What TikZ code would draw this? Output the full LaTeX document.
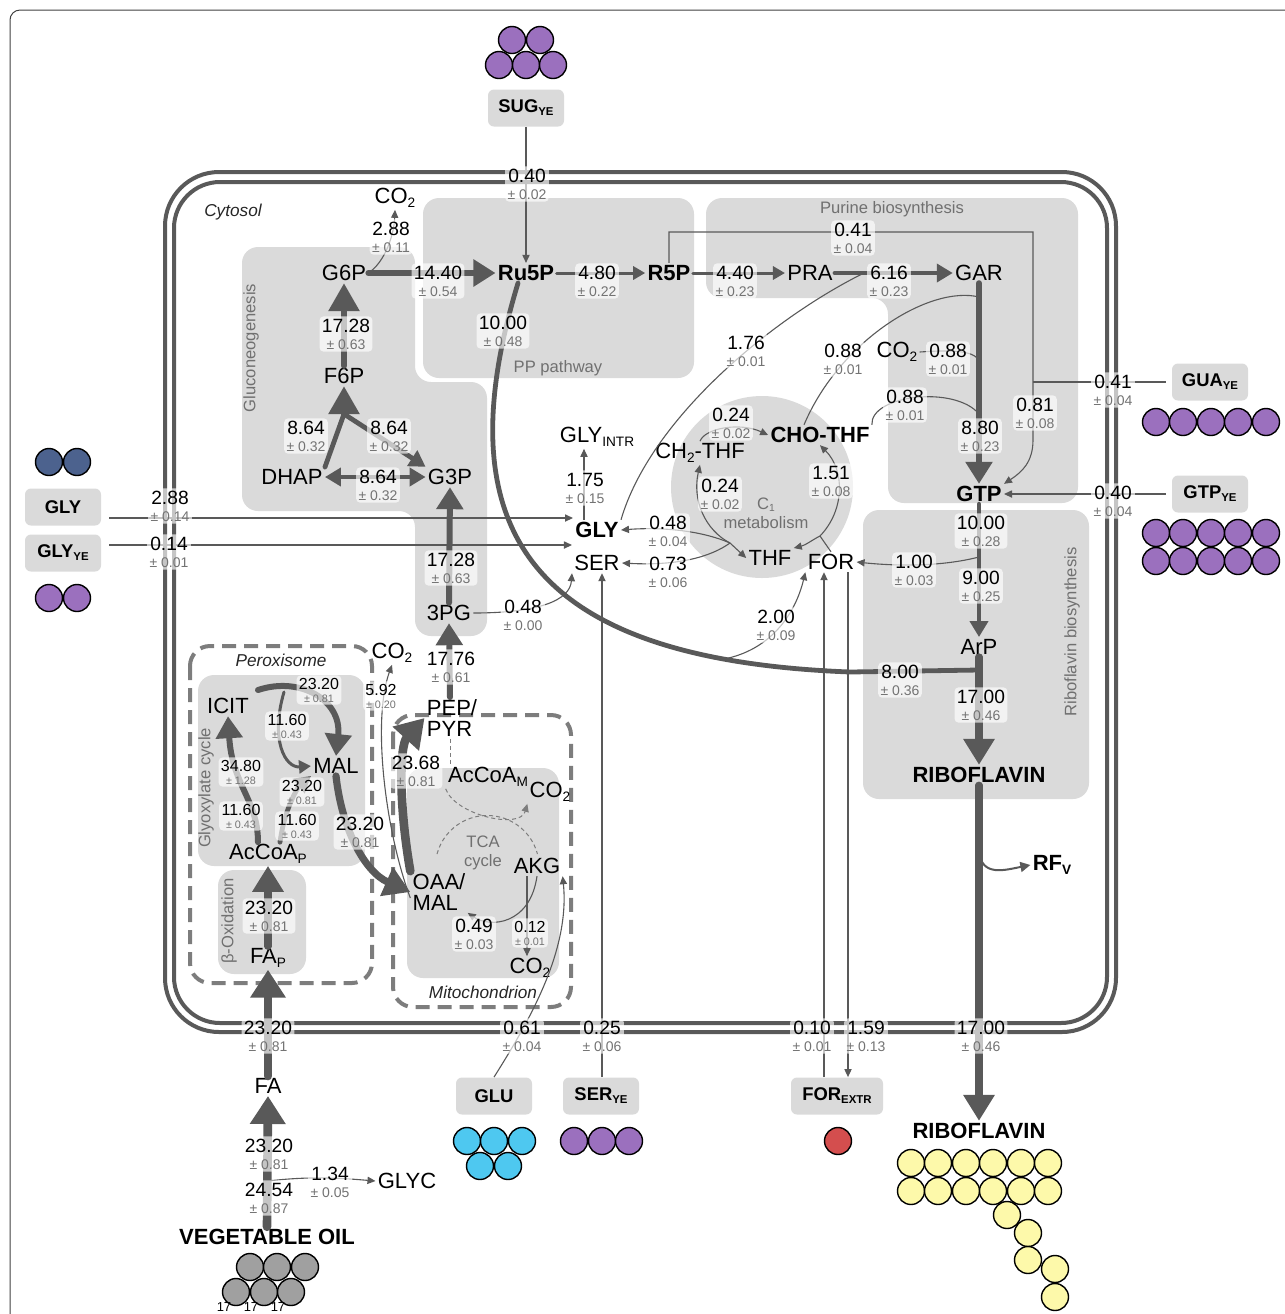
\documentclass[tikz,border=0pt]{standalone}
\usepackage{fontspec}
\setmainfont{Liberation Sans}
\usetikzlibrary{arrows.meta}
\definecolor{lg}{RGB}{89,89,89}
\definecolor{boxgray}{RGB}{218,218,218}
\definecolor{txtgray}{RGB}{112,112,112}
\definecolor{errgray}{RGB}{115,115,115}
\definecolor{compgray}{RGB}{125,125,125}
\definecolor{purp}{RGB}{155,112,190}
\definecolor{navy}{RGB}{76,98,142}
\definecolor{sky}{RGB}{78,200,240}
\definecolor{redmol}{RGB}{212,78,78}
\definecolor{yelmol}{RGB}{253,249,170}
\definecolor{oilgray}{RGB}{160,160,160}
\newcommand{\lsub}[1]{\raisebox{-0.3ex}{\scalebox{0.62}{#1}}}
\newcommand{\fluxerr}[1]{\\[-1.5pt]{\color{errgray}\fontsize{7}{8}\selectfont ± #1}}
\newcommand{\fluxerrs}[1]{\\[-2pt]{\color{errgray}\fontsize{5.4}{6}\selectfont ± #1}}

\begin{document}
\begin{tikzpicture}[x=0.5pt, y=-0.5pt,
  met/.style={inner sep=1pt, font=\fontsize{11}{12.5}\selectfont},
  metb/.style={inner sep=1pt, font=\bfseries\fontsize{11}{12.5}\selectfont},
  extbox/.style={fill=boxgray, rounded corners=3pt, minimum width=38pt, minimum height=18.5pt, inner sep=1pt, font=\bfseries\fontsize{9.2}{10}\selectfont},
  flx/.style={fill=white, fill opacity=0.65, text opacity=1, rounded corners=2pt, inner sep=1.2pt, align=center, font=\fontsize{9.6}{10}\selectfont},
  flxs/.style={flx, font=\fontsize{8}{8.5}\selectfont},
  reg/.style={fill=boxgray, rounded corners=8pt},
  reglbl/.style={text=txtgray, inner sep=1pt, font=\fontsize{8.3}{9.5}\selectfont},
  complbl/.style={inner sep=1pt, text=black!85, font=\itshape\fontsize{8.6}{9.5}\selectfont},
  compart/.style={draw=compgray, line width=2pt, dash pattern=on 7pt off 4pt, rounded corners=10pt},
  mem/.style={draw=lg, line width=2pt},
  mol/.style={draw=black, line width=0.7pt, fill=#1},
  thinln/.style={draw=lg, line width=0.55pt},
  thinarr/.style={thinln, -{Triangle[length=4pt,width=3.6pt]}},
  dashln/.style={draw=compgray, line width=0.5pt, dash pattern=on 2pt off 1.5pt},
  medarr/.style={draw=lg, line width=1pt, -{Triangle[length=5pt,width=5pt]}},
  fA/.style={draw=lg, line width=1.5pt, line cap=round, -{Triangle[length=6pt,width=6.5pt]}},
  fBln/.style={draw=lg, line width=2.4pt, line cap=round},
  fB/.style={fBln, -{Triangle[length=8pt,width=9pt]}},
  fC/.style={draw=lg, line width=3pt, line cap=round, -{Triangle[length=11pt,width=13pt]}},
  fD/.style={draw=lg, line width=3.6pt, line cap=round, -{Triangle[length=13pt,width=15pt]}},
  fE/.style={draw=lg, line width=4.3pt, line cap=round, -{Triangle[length=14pt,width=17pt]}}]
\useasboundingbox (0,0) rectangle (1285,1314);
\draw[line width=0.5pt, black!75, rounded corners=5pt] (10,1340) -- (10,10) -- (1300,10);

% regions
\fill[reg] (423,198) rectangle (694,378);
\fill[reg] (706,198) -- (1078,198) -- (1078,503) -- (888,503) -- (888,298) -- (706,298) -- cycle;
\fill[reg] (242,247) -- (415,247) -- (415,382) -- (487,382) -- (487,636) -- (415,636) -- (415,511) -- (242,511) -- cycle;
\fill[boxgray] (762,487) circle[radius=45.5pt];
\fill[reg] (863,510) rectangle (1089,799);
\fill[reg] (198,675) rectangle (365,866);
\fill[reg] (218,870) rectangle (306,974);
\fill[reg] (407,768) rectangle (559,978);

% membranes
\draw[mem, rounded corners=27pt] (165,172) rectangle (1116,1032);
\draw[mem, rounded corners=23pt] (174,182) rectangle (1107,1023);
\draw[compart] (190,646) rectangle (372,983);
\draw[compart] (393,715) rectangle (571,1007);

% region labels
\node[complbl] (lcyt) at (233,212) {Cytosol};
\node[complbl] (lper) at (281,660) {Peroxisome};
\node[complbl] (lmit) at (483,992) {Mitochondrion};
\node[reglbl] (lpp) at (558,368) {PP pathway};
\node[reglbl] (lpur) at (892,209) {Purine biosynthesis};
\node[reglbl, rotate=90] (lglu) at (251,348) {Gluconeogenesis};
\node[reglbl, align=center] (lc1) at (766,513) {C\lsub{1}\\metabolism};
\node[reglbl, rotate=90] (lrib) at (1072,632) {Riboflavin biosynthesis};
\node[reglbl, rotate=90] (lgly) at (206,788) {Glyoxylate cycle};
\node[reglbl, rotate=90] (lbox) at (229,921) {β-Oxidation};
\node[reglbl, align=center] (ltca) at (483,853) {TCA\\cycle};

% metabolites
\node[met] (co2a) at (395,198) {CO\lsub{2}};
\node[met] (g6p) at (344,273) {G6P};
\node[metb] (ru5p) at (526,273) {Ru5P};
\node[metb] (r5p) at (669,273) {R5P};
\node[met] (pra) at (810,273) {PRA};
\node[met] (gar) at (979,273) {GAR};
\node[met] (f6p) at (344,376) {F6P};
\node[met] (dhap) at (292,477) {DHAP};
\node[met] (g3p) at (450,477) {G3P};
\node[met] (pg3) at (449,613) {3PG};
\node[met] (glyintr) at (597,437) {GLY\lsub{INTR}};
\node[met] (ch2thf) at (700,453) {CH\lsub{2}-THF};
\node[metb] (chothf) at (820,435) {CHO-THF};
\node[metb] (gly) at (597,530) {GLY};
\node[met] (ser) at (597,563) {SER};
\node[met] (thf) at (770,558) {THF};
\node[met] (form) at (831,562) {FOR};
\node[met] (co2p) at (897,352) {CO\lsub{2}};
\node[metb] (gtp) at (979,494) {GTP};
\node[met] (arp) at (979,647) {ArP};
\node[metb] (ribo) at (979,775) {RIBOFLAVIN};
\node[metb] (rfv) at (1052,865) {RF\lsub{V}};
\node[met, align=left] (peppyr) at (452,718) {PEP/\\[-2pt]PYR};
\node[met] (co2b) at (392,653) {CO\lsub{2}};
\node[met] (icit) at (228,706) {ICIT};
\node[met] (mal) at (336,766) {MAL};
\node[met] (accoap) at (268,854) {AcCoA\lsub{P}};
\node[met] (fap) at (268,958) {FA\lsub{P}};
\node[met] (accoam) at (488,777) {AcCoA\lsub{M}};
\node[met] (co2c) at (550,792) {CO\lsub{2}};
\node[met, align=left] (oaamal) at (439,892) {OAA/\\[-2pt]MAL};
\node[met] (akg) at (537,866) {AKG};
\node[met] (co2d) at (530,968) {CO\lsub{2}};
\node[met] (fa) at (268,1086) {FA};
\node[met] (glyc) at (407,1181) {GLYC};
\node[metb] (vegoil) at (267,1237) {VEGETABLE OIL};
\node[metb] (riboext) at (979,1131) {RIBOFLAVIN};

% external pools
\node[extbox] (sug) at (526,108) {SUG\lsub{YE}};
\node[extbox] (glyx) at (63,507) {GLY};
\node[extbox] (glyye) at (63,553) {GLY\lsub{YE}};
\node[extbox] (guaye) at (1210,382) {GUA\lsub{YE}};
\node[extbox] (gtpye) at (1210,494) {GTP\lsub{YE}};
\node[extbox] (glu) at (494,1096) {GLU};
\node[extbox] (serye) at (601,1096) {SER\lsub{YE}};
\node[extbox, minimum width=46pt] (forextr) at (837,1096) {FOR\lsub{EXTR}};

% carbon atoms
\foreach \x in {512,540} \draw[mol=purp] (\x,40) circle[radius=6.75pt];
\foreach \x in {499,526,553} \draw[mol=purp] (\x,65) circle[radius=6.75pt];
\foreach \x in {49,77} \draw[mol=navy] (\x,462) circle[radius=6.75pt];
\foreach \x in {49,77} \draw[mol=purp] (\x,598) circle[radius=6.75pt];
\foreach \x in {1156,1183,1211,1238,1266} \draw[mol=purp] (\x,422) circle[radius=6.75pt];
\foreach \y in {533,561}
  \foreach \x in {1156,1183,1211,1238,1266} \draw[mol=purp] (\x,\y) circle[radius=6.75pt];
\foreach \x in {467,494,522} \draw[mol=sky] (\x,1141) circle[radius=6.75pt];
\foreach \x in {480,508} \draw[mol=sky] (\x,1166) circle[radius=6.75pt];
\foreach \x in {574,602,629} \draw[mol=purp] (\x,1141) circle[radius=6.75pt];
\draw[mol=redmol] (838,1141) circle[radius=6.75pt];
\foreach \x in {250,277,305} \draw[mol=oilgray] (\x,1267) circle[radius=6.75pt];
\foreach \x in {236,264,291} \draw[mol=oilgray] (\x,1292) circle[radius=6.75pt];
\foreach \x/\n in {224/o1,251/o2,278/o3} \node[inner sep=0pt, font=\fontsize{6.5}{7}\selectfont] (\n) at (\x,1307) {17};
\foreach \y in {1163,1191}
  \foreach \x in {911,938,966,993,1021,1048} \draw[mol=yelmol] (\x,\y) circle[radius=6.75pt];
\foreach \x/\y in {1007/1215,1028/1233,1028/1260,1055/1269,1055/1297} \draw[mol=yelmol] (\x,\y) circle[radius=6.75pt];

% junctions
\coordinate (gj) at (344,414);
\coordinate (pj) at (862,274);
\coordinate (gj1) at (979,297);
\coordinate (gj2) at (979,414);
\coordinate (gj3) at (979,360);
\coordinate (tj1) at (1033,232);
\coordinate (tj2) at (1033,382);
\coordinate (tj3) at (1033,440);
\coordinate (fj1) at (979,557);
\coordinate (arj) at (979,670);
\coordinate (bj) at (724,659);
\coordinate (cj) at (730,543);
\coordinate (fj) at (820,536);
\coordinate (rvj) at (979,852);
\coordinate (vj) at (268,1181);
\coordinate (icj) at (258,690);
\coordinate (icj2) at (284,692);

% glycolysis / gluconeogenesis / PP
\draw[thinarr] (sug.south) -- (ru5p.north);
\draw[thinarr] (g6p.east) .. controls (385,262) and (394,235) .. (co2a.south);
\draw[fC] (g6p.east) -- (ru5p.west);
\draw[fA] (ru5p) -- (r5p);
\draw[fA] (r5p) -- (pra);
\draw[fB] (pra) -- (gar);
\draw[fC, -{Triangle[length=14pt,width=15pt]}] (f6p.north) -- (g6p.south);
\draw[fBln] (dhap.north east) -- (gj);
\draw[fB] (gj) -- (g3p.north west);
\draw[fC, -{Triangle[length=14pt,width=15pt]}] (gj) -- (f6p.south);
\draw[fBln, {Triangle[length=8pt,width=9pt]}-{Triangle[length=8pt,width=9pt]}] (dhap.east) -- (g3p.west);
\draw[fC] (pg3.north) -- (g3p.south);
\draw[fC] (peppyr.north -| 450,0) -- (pg3.south);
\draw[thinarr] (pg3.east) .. controls (540,613) and (570,600) .. (ser.south west);

% Ru5P to riboflavin
\draw[fBln] ([xshift=-4pt]ru5p.south) .. controls (440,540) and (540,660) .. (850,672) -- (arj);
\draw[thinarr] (bj) .. controls (770,650) and (795,615) .. (form.south west);

% purine biosynthesis
\draw[thinln] (gly.north east) .. controls (650,420) and (770,320) .. (pj);
\draw[fC] (gar.south) -- (gtp.north);
\draw[thinln] ([xshift=-8pt]chothf.north) .. controls (840,340) and (930,285) .. (gj1);
\draw[thinln] (chothf.north east) .. controls (870,395) and (955,385) .. (gj2);
\draw[thinln] (co2p.east) .. controls (950,350) and (972,350) .. (gj3);
\draw[thinarr] (r5p.north) |- (tj1) -- (tj3) .. controls (1033,462) and (1022,472) .. (gtp.north east);
\draw[thinln, shorten <=3pt] (guaye.west) -- (tj2);
\draw[thinarr, shorten <=3pt] (gtpye.west) -- (gtp.east);

% riboflavin biosynthesis
\draw[fB] (gtp.south) -- (arp.north);
\draw[thinarr] (fj1) .. controls (940,567) and (895,566) .. (form.east);
\draw[fD] (arp.south) -- (ribo.north);
\draw[fD] (ribo.south) -- (riboext.north);
\draw[medarr] (rvj) .. controls (982,877) and (1005,870) .. (rfv.west);

% glycine, serine and C1
\draw[thinarr, shorten <=4pt] (glyx.east |- 0,518) -- (gly.west |- 0,518);
\draw[thinarr, shorten <=4pt] (glyye.east |- 0,545) -- (ser.west |- 0,545);
\draw[thinarr] (gly.north -| 584,0) -- (glyintr.south -| 584,0);
\draw[thinarr] (serye.north -| 602,0) -- (ser.south -| 602,0);
\draw[thinarr] (forextr.north -| 824,0) -- (form.south -| 824,0);
\draw[thinarr] (form.south -| 848,0) -- (forextr.north -| 848,0);
\draw[thinarr] (cj) .. controls (700,530) and (660,527) .. (gly.east);
\draw[thinarr] (cj) .. controls (712,556) and (680,566) .. (ser.east);
\draw[thinarr] (cj) -- (thf.west);
\draw[thinarr] (cj) .. controls (705,530) and (692,500) .. (ch2thf.south);
\draw[thinarr] (ch2thf.north) .. controls (705,428) and (740,422) .. (chothf.west);
\draw[thinln] (form.north) -- (fj);
\draw[thinarr] (fj) .. controls (845,510) and (845,470) .. (chothf.south);
\draw[thinarr] (fj) .. controls (812,540) and (806,545) .. (thf.north east);

% peroxisome
\draw[fE] (fa.north) -- (fap.south);
\draw[fD] (fap.north) -- (accoap.south);
\draw[fC] ([xshift=-5pt]accoap.north) .. controls (258,800) and (232,785) .. (icit.south);
\draw[fC] (icj) .. controls (300,676) and (342,700) .. (mal.north);
\draw[fA] (icj2) .. controls (270,740) and (285,768) .. (mal.west);
\draw[fB] ([xshift=6pt]accoap.north) .. controls (285,805) and (300,785) .. (mal.south west);
\draw[fD] (mal.south) .. controls (342,830) and (365,872) .. (oaamal.west);

% mitochondrion
\draw[fE] (oaamal.north west) .. controls (398,800) and (400,745) .. (peppyr.west);
\draw[thinarr] ([yshift=-3pt]oaamal.west) .. controls (385,830) and (372,720) .. (co2b.south);
\draw[dashln] (peppyr.south -| 450,0) -- (accoam.north -| 450,0);
\draw[dashln, -{Triangle[length=4pt,width=3.6pt]}] (accoam.south west) .. controls (455,815) and (520,830) .. (co2c.south west);
\draw[dashln] (437,854) arc[start angle=165, end angle=15, radius=26pt];
\draw[thinarr] (akg.south) .. controls (530,925) and (490,928) .. (oaamal.south east);
\draw[thinarr] (akg.south -| 527,0) -- (co2d.north -| 527,0);
\draw[thinarr] (glu.north) .. controls (530,1020) and (570,950) .. (akg.south east);

% vegetable oil
\draw[fE] (vegoil.north) -- (fa.south);
\draw[thinarr] (vj) .. controls (310,1176) and (340,1178) .. (glyc.west);

% fluxes
\node[flx] (f1) at (527,184) {0.40\fluxerr{0.02}};
\node[flx] (f2) at (391,237) {2.88\fluxerr{0.11}};
\node[flx] (f3) at (438,281) {14.40\fluxerr{0.54}};
\node[flx] (f4) at (597,281) {4.80\fluxerr{0.22}};
\node[flx] (f5) at (735,281) {4.40\fluxerr{0.23}};
\node[flx] (f6) at (889,281) {6.16\fluxerr{0.23}};
\node[flx] (f7) at (853,238) {0.41\fluxerr{0.04}};
\node[flx] (f8) at (503,331) {10.00\fluxerr{0.48}};
\node[flx] (f9) at (346,334) {17.28\fluxerr{0.63}};
\node[flx] (f10) at (306,436) {8.64\fluxerr{0.32}};
\node[flx] (f11) at (389,436) {8.64\fluxerr{0.32}};
\node[flx] (f12) at (378,485) {8.64\fluxerr{0.32}};
\node[flx] (f13) at (451,568) {17.28\fluxerr{0.63}};
\node[flx] (f14) at (523,615) {0.48\fluxerr{0.00}};
\node[flx] (f15) at (451,667) {17.76\fluxerr{0.61}};
\node[flx] (f16) at (585,488) {1.75\fluxerr{0.15}};
\node[flx] (f17) at (746,351) {1.76\fluxerr{0.01}};
\node[flx] (f18) at (843,359) {0.88\fluxerr{0.01}};
\node[flx] (f19) at (948,359) {0.88\fluxerr{0.01}};
\node[flx] (f20) at (905,405) {0.88\fluxerr{0.01}};
\node[flx] (f21) at (731,423) {0.24\fluxerr{0.02}};
\node[flx] (f22) at (720,494) {0.24\fluxerr{0.02}};
\node[flx] (f23) at (831,481) {1.51\fluxerr{0.08}};
\node[flx] (f24) at (668,531) {0.48\fluxerr{0.04}};
\node[flx] (f25) at (668,572) {0.73\fluxerr{0.06}};
\node[flx] (f26) at (980,436) {8.80\fluxerr{0.23}};
\node[flx] (f27) at (1035,413) {0.81\fluxerr{0.08}};
\node[flx] (f28) at (1113,390) {0.41\fluxerr{0.04}};
\node[flx] (f29) at (1113,501) {0.40\fluxerr{0.04}};
\node[flx] (f30) at (981,531) {10.00\fluxerr{0.28}};
\node[flx] (f31) at (914,570) {1.00\fluxerr{0.03}};
\node[flx] (f32) at (981,586) {9.00\fluxerr{0.25}};
\node[flx] (f33) at (776,625) {2.00\fluxerr{0.09}};
\node[flx] (f34) at (900,680) {8.00\fluxerr{0.36}};
\node[flx] (f35) at (981,705) {17.00\fluxerr{0.46}};
\node[flx] (f36) at (170,506) {2.88\fluxerr{0.14}};
\node[flx] (f37) at (169,552) {0.14\fluxerr{0.01}};
\node[flxs] (f38) at (319,690) {23.20\fluxerrs{0.81}};
\node[flxs] (f39) at (381,696) {5.92\fluxerrs{0.20}};
\node[flxs] (f40) at (287,726) {11.60\fluxerrs{0.43}};
\node[flxs] (f41) at (241,772) {34.80\fluxerrs{1.28}};
\node[flxs] (f42) at (302,792) {23.20\fluxerrs{0.81}};
\node[flxs] (f43) at (241,816) {11.60\fluxerrs{0.43}};
\node[flxs] (f44) at (297,826) {11.60\fluxerrs{0.43}};
\node[flx] (f45) at (360,832) {23.20\fluxerr{0.81}};
\node[flx] (f46) at (416,771) {23.68\fluxerr{0.81}};
\node[flx] (f47) at (269,916) {23.20\fluxerr{0.81}};
\node[flx] (f48) at (474,934) {0.49\fluxerr{0.03}};
\node[flxs] (f49) at (530,933) {0.12\fluxerrs{0.01}};
\node[flx] (f50) at (268,1036) {23.20\fluxerr{0.81}};
\node[flx] (f51) at (522,1036) {0.61\fluxerr{0.04}};
\node[flx] (f52) at (602,1036) {0.25\fluxerr{0.06}};
\node[flx] (f53) at (812,1036) {0.10\fluxerr{0.01}};
\node[flx] (f54) at (866,1036) {1.59\fluxerr{0.13}};
\node[flx] (f55) at (981,1036) {17.00\fluxerr{0.46}};
\node[flx] (f56) at (269,1154) {23.20\fluxerr{0.81}};
\node[flx] (f57) at (269,1198) {24.54\fluxerr{0.87}};
\node[flx] (f58) at (330,1182) {1.34\fluxerr{0.05}};
\end{tikzpicture}
\end{document}
